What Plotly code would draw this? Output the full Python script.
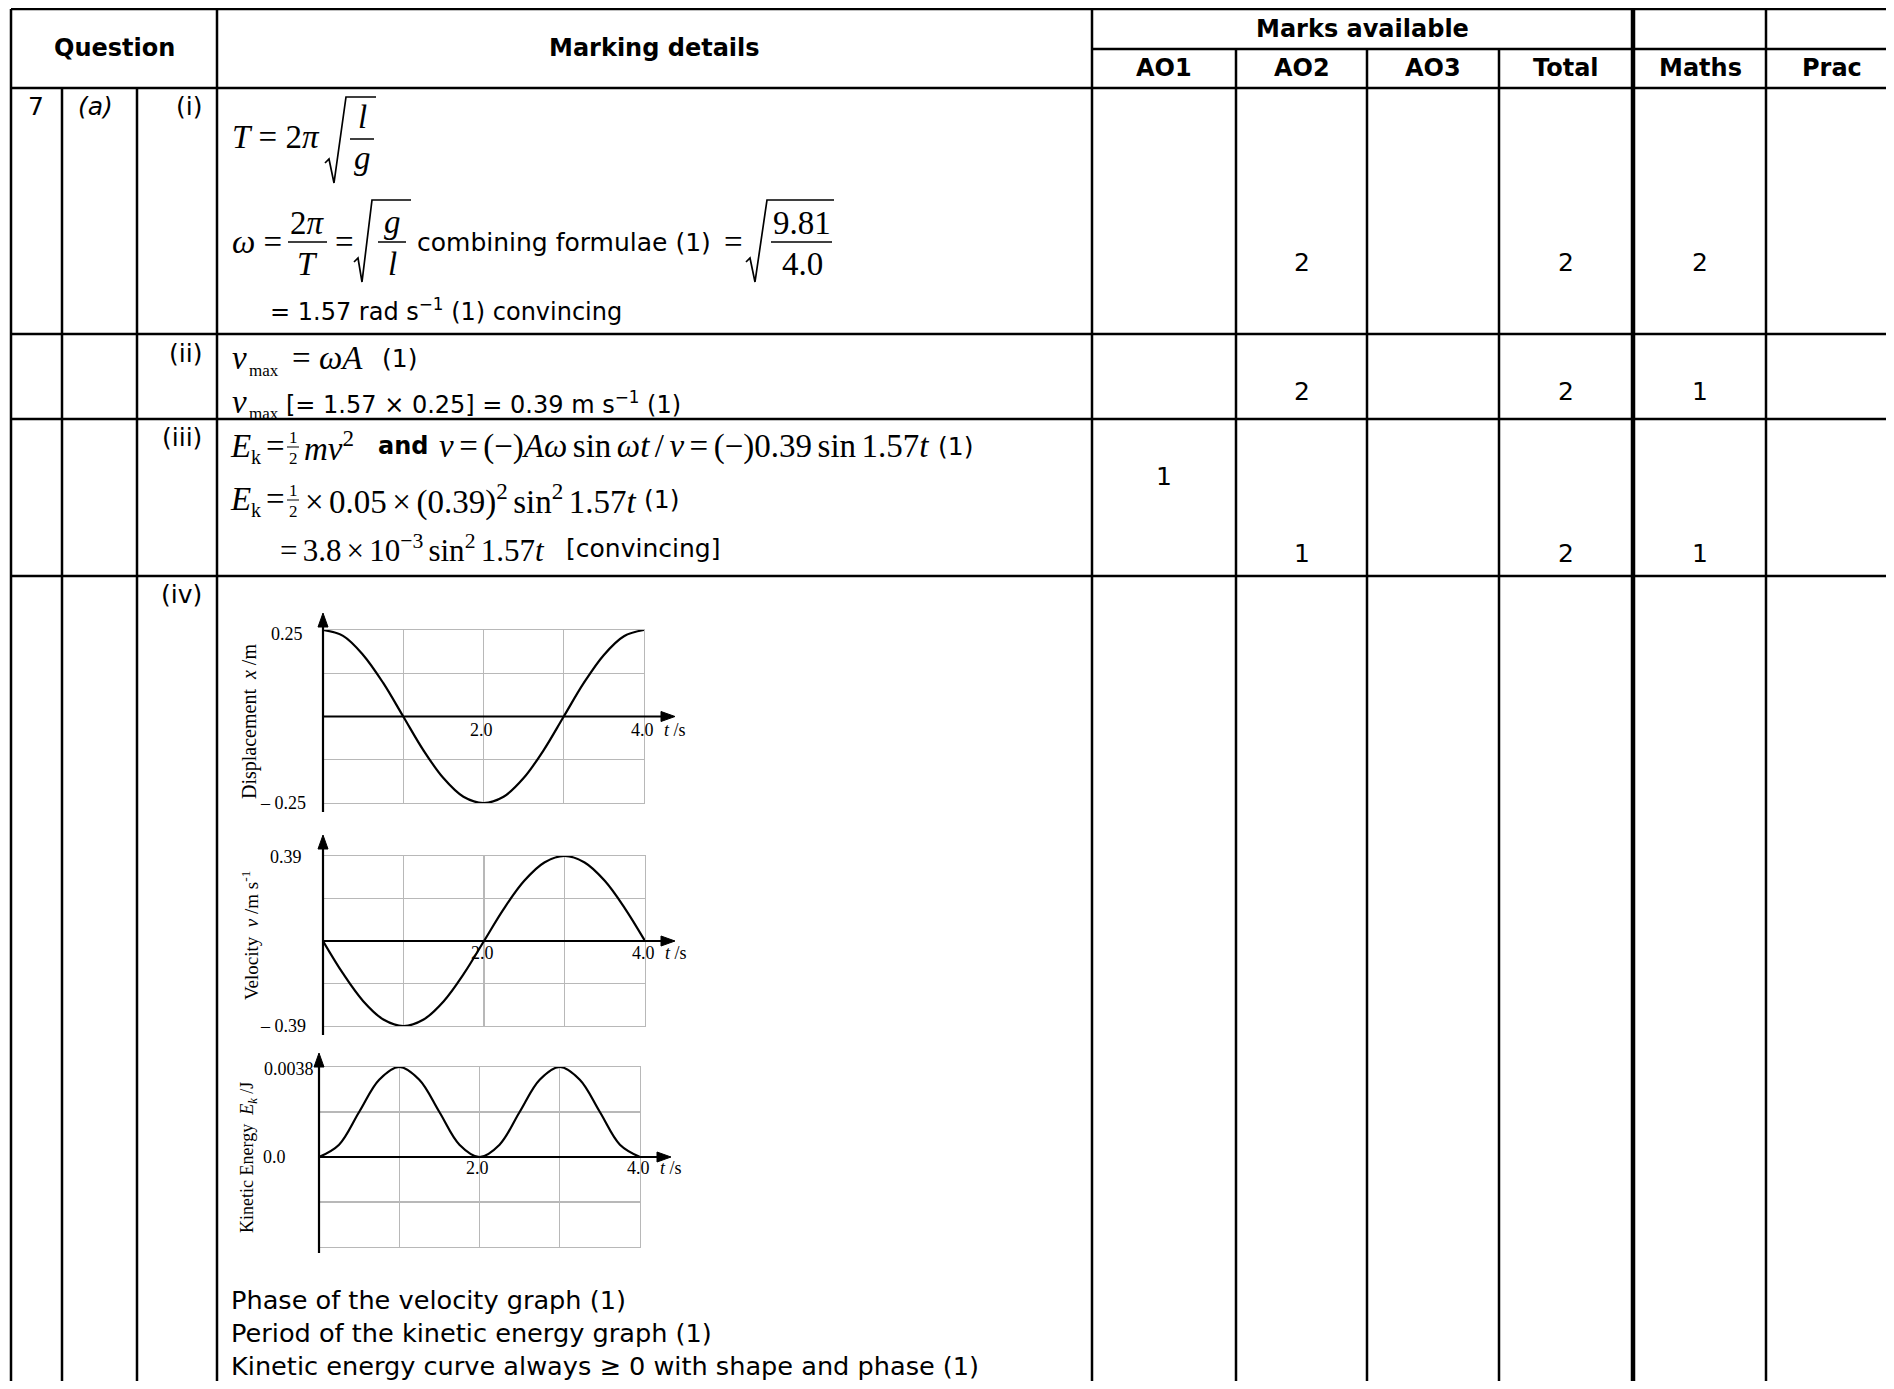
import plotly.graph_objects as go

# ---------------- chart data ----------------
t_s = [0.0, 0.25, 0.5, 0.75, 1.0, 1.25, 1.5, 1.75, 2.0, 2.25, 2.5, 2.75, 3.0, 3.25, 3.5, 3.75, 4.0]
displacement_m = [0.25, 0.233, 0.178, 0.097, 0.0, -0.097, -0.178, -0.232, -0.25,
                  -0.232, -0.178, -0.097, 0.0, 0.097, 0.178, 0.232, 0.25]
velocity_ms = [0.0, -0.150, -0.276, -0.360, -0.39, -0.360, -0.276, -0.150, 0.0,
               0.150, 0.276, 0.360, 0.39, 0.360, 0.276, 0.150, 0.0]
kinetic_J = [0.0, 0.00052, 0.0019, 0.00326, 0.0038, 0.00326, 0.0019, 0.00052, 0.0,
             0.00052, 0.0019, 0.00326, 0.0038, 0.00326, 0.0019, 0.00052, 0.0]

y_max = [0.25, 0.39, 0.0038]
y_top_labels = ["0.25", "0.39", "0.0038"]
y_bottom_labels = ["\u2013 0.25", "\u2013 0.39", ""]
t_tick_vals = [2.0, 4.0]
t_tick_labels = ["2.0", "4.0"]
y_titles = ["Displacement  <i>x</i> /m",
            "Velocity  <i>v</i> /m s<sup>-1</sup>",
            "Kinetic Energy  <i>E<sub>k</sub></i> /J"]

# ---------------- table data ----------------
header_marks = ["AO1", "AO2", "AO3", "Total", "Maths", "Prac"]
question_no = "7"
question_sub = "(a)"
parts = ["(i)", "(ii)", "(iii)", "(iv)"]
marks_AO1 = ["", "", "1", ""]
marks_AO2 = ["2", "2", "1", ""]
marks_AO3 = ["", "", "", ""]
marks_total = ["2", "2", "2", ""]
marks_maths = ["2", "1", "1", ""]
marks_prac = ["", "", "", ""]
criteria = ["Phase of the velocity graph (1)",
            "Period of the kinetic energy graph (1)",
            "Kinetic energy curve always \u2265 0 with shape and phase (1)"]

# ---------------- geometry (page pixels) ----------------
OFF = 8
W, H = 1878, 1373
X0, X1 = OFF, OFF + W
Y0, Y1 = OFF, OFF + H
SANS = "DejaVu Sans"
SERIF = "Liberation Serif"
GRID = "#b8b8b8"
MS = 33            # size of the maths (serif) text
SP = "\u2006"      # narrow maths space

fig = go.Figure()
shapes = []
ann = []


def line(x0, y0, x1, y1, w=2.5, color="black"):
    shapes.append(dict(type="line", xref="x", yref="y", x0=x0, y0=y0, x1=x1, y1=y1,
                       line=dict(color=color, width=w), layer="above"))


def path(d, w=1.6, fill=None):
    shapes.append(dict(type="path", xref="x", yref="y", path=d,
                       line=dict(color="black", width=w),
                       fillcolor=fill if fill else "rgba(0,0,0,0)", layer="above"))


def txt(x, y, s, size=25, fam=SANS, anchor="left", angle=0, **kw):
    d = dict(x=x, y=y, xref="x", yref="y", text=s, showarrow=False,
             xanchor=anchor, yanchor="middle", textangle=angle,
             font=dict(family=fam, size=size, color="black"))
    d.update(kw)
    ann.append(d)


def math(x, y, s, size=MS, anchor="left"):
    txt(x, y, s, size=size, fam=SERIF, anchor=anchor)


def radical(x0, ymid, xtip, ybot, xtop, ytop, xend):
    path(f"M {x0},{ymid} L {x0+4},{ymid-4} L {xtip},{ybot} L {xtop},{ytop} L {xend},{ytop}", w=1.7)


# invisible trace that anchors the page-pixel overlay axes
fig.add_trace(go.Scatter(x=[X0, X1], y=[Y0, Y1], mode="markers", marker=dict(opacity=0),
                         hoverinfo="skip", showlegend=False, xaxis="x", yaxis="y"))

# ---------------- table rules ----------------
row_y = [9, 49, 88, 334, 419, 576]
right = X1 + 2
bottom = Y1 + 2
line(11, 9, right, 9)
line(1092, 49, right, 49)
for yy in row_y[2:]:
    line(11, yy, right, yy)
line(11, 9, 11, bottom)
line(62, 88, 62, bottom)
line(137, 88, 137, bottom)
line(217, 9, 217, bottom)
line(1092, 9, 1092, bottom)
for xx in (1236, 1367, 1499):
    line(xx, 49, xx, bottom)
line(1633, 9, 1633, bottom, w=4.5)
line(1766, 9, 1766, bottom)

# ---------------- header ----------------
txt(114, 48, "<b>Question</b>", size=24, anchor="center")
txt(654, 48, "<b>Marking details</b>", size=24, anchor="center")
txt(1362, 29, "<b>Marks available</b>", size=24, anchor="center")
col_centers = [1164, 1302, 1433, 1566, 1700, 1832]
for cx, h in zip(col_centers, header_marks):
    txt(cx, 68, f"<b>{h}</b>", size=24, anchor="center")

# ---------------- question column ----------------
txt(26, 106, question_no)
txt(76, 106, f"<i>{question_sub}</i>")
part_y = [106, 353, 437, 594]
for py, p in zip(part_y, parts):
    txt(204, py, p, anchor="right")

# ---------------- marks ----------------
mark_cols = [marks_AO1, marks_AO2, marks_AO3, marks_total, marks_maths, marks_prac]
mark_y = [262, 391, 553, 0]
for ci, (cx, col) in enumerate(zip(col_centers, mark_cols)):
    for ri, v in enumerate(col):
        if v:
            yy = mark_y[ri]
            if ri == 2 and ci == 0:
                yy = 476
            txt(cx, yy, v, anchor="center")

# ---------------- row (i) ----------------
math(230, 137, "<i>T</i> = 2<i>\u03c0</i>")
radical(325, 163, 334, 183, 346, 97, 376)
line(350, 139, 374, 139, w=1.5)
math(362, 117, "<i>l</i>", anchor="center")
math(362, 158, "<i>g</i>", anchor="center")

RY = 242
math(230, RY, "<i>\u03c9</i> =")
line(288, RY, 327, RY, w=1.5)
math(307, RY - 19, "2<i>\u03c0</i>", anchor="center")
math(307, RY + 22, "<i>T</i>", anchor="center")
math(333, RY, "=")
radical(354, 262, 362, 282, 372, 200, 411)
line(378, RY, 406, RY, w=1.5)
math(392, RY - 20, "<i>g</i>", anchor="center")
math(392, RY + 22, "<i>l</i>", anchor="center")
txt(415, RY, "combining formulae (1)")
math(722, RY, "=")
radical(746, 262, 755, 282, 767, 200, 834)
line(771, RY, 832, RY, w=1.5)
math(802, RY - 19, "9.81", anchor="center")
math(802, RY + 22, "4.0", anchor="center")
txt(268, 310, "= 1.57 rad s<sup>\u22121</sup> (1) convincing", size=24)

# ---------------- row (ii) ----------------
math(230, 358, "<i>v</i>")
math(247, 370, "max", size=17)
math(290, 358, "= <i>\u03c9A</i>")
txt(380, 358, "(1)")
math(230, 402, "<i>v</i>")
math(247, 413, "max", size=17)
txt(284, 403, "[= 1.57 \u00d7 0.25] = 0.39 m s<sup>\u22121</sup> (1)", size=24)

# ---------------- row (iii) ----------------
def half(xc, yc):
    math(xc, yc - 10, "1", size=17, anchor="center")
    line(xc - 6, yc, xc + 6, yc, w=1)
    math(xc, yc + 11, "2", size=17, anchor="center")


math(228, 446, "<i>E</i>")
math(249, 457, "k", size=20)
math(264, 446, "=")
half(293, 447)
math(302, 446, "<i>mv</i><sup>2</sup>")
txt(376, 446, "<b>and</b>", size=24)
math(437, 446, f"<i>v</i>{SP}={SP}(\u2212)<i>A\u03c9</i>{SP}sin{SP}<i>\u03c9t</i>{SP}/{SP}"
              f"<i>v</i>{SP}={SP}(\u2212)0.39{SP}sin{SP}1.57<i>t</i>")
txt(936, 446, "(1)")

math(228, 499, "<i>E</i>")
math(249, 510, "k", size=20)
math(264, 499, "=")
half(293, 500)
math(303, 499, f"\u00d7{SP}0.05{SP}\u00d7{SP}(0.39)<sup>2</sup>{SP}sin<sup>2</sup>{SP}1.57<i>t</i>")
txt(642, 499, "(1)")

math(278, 548, f"={SP}3.8{SP}\u00d7{SP}10<sup>\u22123</sup>{SP}sin<sup>2</sup>{SP}1.57<i>t</i>", size=31)
txt(564, 548, "[convincing]")

# ---------------- row (iv) criteria ----------------
for yy, s in zip([1300, 1333, 1366], criteria):
    txt(229, yy, s, size=25.6)

# ---------------- the three small graphs ----------------
g_px = [(323, 644, 630, 803), (323, 645, 856, 1026), (319, 640, 1067, 1247)]
g_ext = [(613, 812, 675), (835, 1035, 675), (1053, 1253, 671)]
g_title_xy = [(249, 722), (250, 936), (248, 1158)]
g_title_size = [20, 19, 18]
series = [displacement_m, velocity_ms, kinetic_J]
ytop_shift = [(-18, -4), (-19, -1), (-3, -2)]
tlab_dy = [-13, -12, -11]
LS = 18

layout_axes = {}
for i in range(3):
    n = str(i + 2)
    px0, px1, py0, py1 = g_px[i]
    ym = y_max[i]
    layout_axes["xaxis" + n] = dict(
        domain=[(px0 - OFF) / W, (px1 - OFF) / W], range=[0, 4], anchor="y" + n,
        tick0=0, dtick=1, showgrid=True, gridcolor=GRID, gridwidth=1.3,
        showline=True, mirror=True, linecolor=GRID, linewidth=1.3,
        zeroline=False, showticklabels=False, ticks="", fixedrange=True)
    layout_axes["yaxis" + n] = dict(
        domain=[(Y1 - py1) / H, (Y1 - py0) / H], range=[-ym, ym], anchor="x" + n,
        tick0=0, dtick=ym / 2, showgrid=True, gridcolor=GRID, gridwidth=1.3,
        showline=True, mirror=True, linecolor=GRID, linewidth=1.3,
        zeroline=False, showticklabels=False, ticks="", fixedrange=True)
    fig.add_trace(go.Scatter(x=t_s, y=series[i], xaxis="x" + n, yaxis="y" + n,
                             mode="lines", line=dict(color="black", width=2.2, shape="spline"),
                             cliponaxis=False, hoverinfo="skip", showlegend=False))

    # black axes with arrow heads
    ytip, ybot, xtip = g_ext[i]
    y0px = (py0 + py1) / 2
    line(px0, ybot, px0, ytip + 8, w=2.2)
    path(f"M {px0},{ytip} L {px0-5},{ytip+14} L {px0+5},{ytip+14} Z", w=1, fill="black")
    line(px0, y0px, xtip - 8, y0px, w=2.2)
    path(f"M {xtip},{y0px} L {xtip-14},{y0px-5} L {xtip-14},{y0px+5} Z", w=1, fill="black")

    # value labels positioned through the small graph's own axes
    dx, dy = ytop_shift[i]
    ann.append(dict(x=0, y=ym, xref="x" + n, yref="y" + n, text=y_top_labels[i],
                    showarrow=False, xanchor="right", yanchor="middle", xshift=dx, yshift=dy,
                    font=dict(family=SERIF, size=LS, color="black")))
    if y_bottom_labels[i]:
        ann.append(dict(x=0, y=-ym, xref="x" + n, yref="y" + n, text=y_bottom_labels[i],
                        showarrow=False, xanchor="right", yanchor="middle", xshift=-15,
                        font=dict(family=SERIF, size=LS, color="black")))
    else:
        ann.append(dict(x=0, y=0, xref="x" + n, yref="y" + n, text="0.0",
                        showarrow=False, xanchor="right", yanchor="middle", xshift=-31,
                        font=dict(family=SERIF, size=LS, color="black")))
    for tv, tl in zip(t_tick_vals, t_tick_labels):
        ann.append(dict(x=tv, y=0, xref="x" + n, yref="y" + n, text=tl,
                        showarrow=False, xanchor="center", yanchor="middle",
                        xshift=-2, yshift=tlab_dy[i],
                        font=dict(family=SERIF, size=LS, color="black")))
    ann.append(dict(x=4, y=0, xref="x" + n, yref="y" + n, text="<i>t</i> /s",
                    showarrow=False, xanchor="left", yanchor="middle",
                    xshift=18, yshift=tlab_dy[i],
                    font=dict(family=SERIF, size=LS, color="black")))
    tx, ty = g_title_xy[i]
    txt(tx, ty, y_titles[i], size=g_title_size[i], fam=SERIF, anchor="center", angle=-90)

fig.update_layout(
    width=W, height=H, autosize=False,
    margin=dict(l=0, r=0, t=0, b=0, pad=0),
    paper_bgcolor="white", plot_bgcolor="rgba(0,0,0,0)",
    showlegend=False, hovermode=False,
    xaxis=dict(domain=[0, 1], range=[X0, X1], visible=False, fixedrange=True, anchor="y"),
    yaxis=dict(domain=[0, 1], range=[Y1, Y0], visible=False, fixedrange=True, anchor="x"),
    shapes=shapes, annotations=ann,
    **layout_axes,
)

fig.write_html("out.html", config={"displayModeBar": False, "staticPlot": True})
